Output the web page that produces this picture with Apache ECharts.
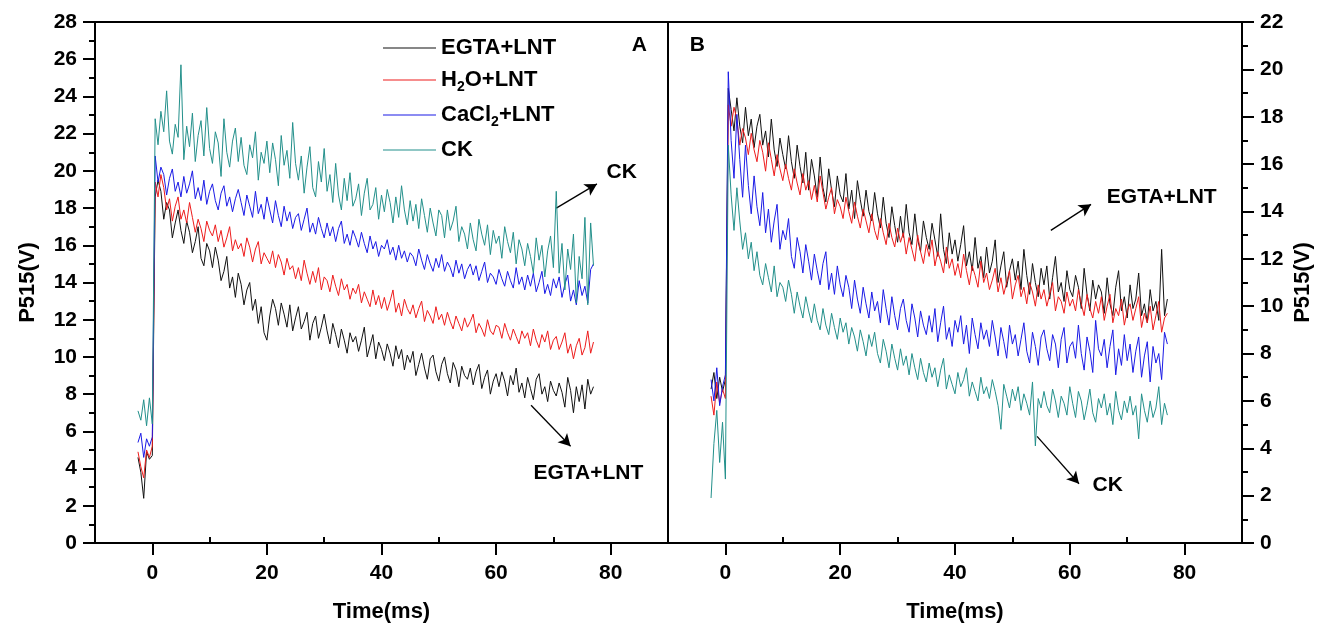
<!DOCTYPE html>
<html>
<head>
<meta charset="utf-8">
<script src="https://cdn.jsdelivr.net/npm/echarts@6/dist/echarts.min.js"></script>
<style>html,body{margin:0;padding:0;background:#fff}#c{width:1326px;height:628px}</style>
</head>
<body>
<div id="c"></div>
<script>
// Time (ms)
const TIME = [-2.5,-2,-1.5,-1,-0.5,0,
0.5,1,1.5,2,2.5,3,3.5,4,4.5,5,
5.5,6,6.5,7,7.5,8,8.5,9,9.5,10,
10.5,11,11.5,12,12.5,13,13.5,14,14.5,15,
15.5,16,16.5,17,17.5,18,18.5,19,19.5,20,
20.5,21,21.5,22,22.5,23,23.5,24,24.5,25,
25.5,26,26.5,27,27.5,28,28.5,29,29.5,30,
30.5,31,31.5,32,32.5,33,33.5,34,34.5,35,
35.5,36,36.5,37,37.5,38,38.5,39,39.5,40,
40.5,41,41.5,42,42.5,43,43.5,44,44.5,45,
45.5,46,46.5,47,47.5,48,48.5,49,49.5,50,
50.5,51,51.5,52,52.5,53,53.5,54,54.5,55,
55.5,56,56.5,57,57.5,58,58.5,59,59.5,60,
60.5,61,61.5,62,62.5,63,63.5,64,64.5,65,
65.5,66,66.5,67,67.5,68,68.5,69,69.5,70,
70.5,71,71.5,72,72.5,73,73.5,74,74.5,75,
75.5,76,76.5,77];

const SERIES_NAMES = ['EGTA+LNT','H2O+LNT','CaCl2+LNT','CK'];
const COLORS = ['#111111','#ee1c1c','#1a1ae6','#23908b'];

// Panel A values (P515, V)
const A_EGTA = [4.6,3.8,2.4,4.9,4.5,4.7,
18.6,19.5,18.9,17.4,18.3,17.9,16.4,17.2,17.9,16.8,
16.1,17.3,16.7,15.6,16.2,17.0,15.3,14.9,16.1,15.7,
14.8,15.9,15.2,14.1,14.6,15.4,13.7,14.3,13.2,14.5,
13.9,12.8,13.6,14.0,12.5,13.1,11.8,12.7,11.3,10.9,
12.2,13.1,12.6,11.7,12.9,12.3,11.6,12.8,11.4,12.1,
12.7,11.5,11.9,12.4,10.9,11.8,12.2,11.0,11.6,12.3,
11.4,10.7,11.8,11.2,10.5,11.5,10.9,10.2,11.3,10.8,
11.1,10.3,10.9,11.6,10.0,10.6,11.2,9.9,10.8,10.4,
9.8,10.7,10.2,9.5,10.6,9.9,10.4,9.3,10.1,9.7,
10.3,9.0,9.6,10.2,9.4,8.8,9.9,10.1,9.2,8.7,
9.6,10.0,9.1,8.6,9.7,9.3,8.4,9.5,9.0,8.8,
9.4,8.5,9.2,9.6,8.3,8.9,9.3,8.0,8.7,9.1,
8.4,9.2,8.7,7.9,9.0,8.5,9.4,8.1,8.6,7.8,
8.9,8.3,7.7,8.8,9.1,8.0,8.4,7.6,8.7,8.2,
7.9,8.6,8.1,7.3,8.9,8.2,7.0,8.4,7.6,8.5,
7.2,8.8,8.0,8.4];
const A_H2O = [4.9,4.1,3.5,5.0,4.6,5.2,
19.4,18.6,19.8,19.1,17.9,18.5,17.3,18.1,18.6,17.4,
17.9,17.2,18.3,17.5,16.7,17.4,16.9,16.2,17.3,16.8,
16.5,17.1,16.2,16.8,15.9,16.4,17.0,15.7,16.3,15.8,
16.1,15.4,16.4,15.9,15.1,15.8,16.2,15.0,15.6,15.3,
15.0,15.7,14.8,15.5,15.1,14.4,15.3,14.7,14.9,14.2,
14.8,14.1,15.2,14.5,13.9,14.6,14.0,14.8,13.6,14.3,
14.1,13.5,14.4,13.8,13.3,14.2,13.6,13.9,13.1,13.7,
13.4,13.9,12.9,13.5,13.1,12.7,13.6,12.8,13.3,12.6,
13.2,12.5,13.0,13.6,12.4,12.9,12.2,13.1,12.6,12.3,
12.8,12.1,12.6,13.0,11.9,12.5,12.2,11.8,12.7,12.0,
12.3,11.7,12.4,11.9,11.5,12.2,11.8,11.4,12.1,11.6,
11.9,12.3,11.3,11.8,11.5,11.1,12.0,11.4,11.2,11.7,
11.6,11.0,11.8,11.3,10.9,11.5,11.1,10.7,11.4,11.0,
11.3,10.6,11.5,10.9,10.5,11.2,10.8,11.4,10.4,10.9,
11.1,10.4,10.8,11.3,10.2,10.7,9.9,10.6,11.0,10.1,
10.5,11.4,10.2,10.8];
const A_CACL2 = [5.4,5.9,4.6,5.6,5.2,5.7,
20.8,19.4,20.2,19.8,18.7,19.6,20.1,18.9,19.4,18.6,
19.7,18.8,19.3,20.0,18.5,19.1,18.4,19.5,18.2,18.9,
19.3,18.4,17.9,18.8,19.2,18.1,18.6,17.8,18.5,19.0,
18.3,17.6,18.7,18.1,17.5,18.9,17.7,18.2,17.4,18.6,
17.9,17.2,18.4,17.6,17.0,18.1,17.3,17.8,16.9,17.5,
17.7,16.8,17.4,18.0,16.7,17.2,16.6,17.5,16.9,16.4,
17.2,16.5,17.0,16.2,16.9,17.3,16.1,16.6,16.0,16.8,
16.4,15.9,16.7,16.1,15.6,16.5,15.8,16.2,15.4,16.0,
15.8,16.3,15.5,15.9,15.2,16.0,15.3,15.7,15.1,15.6,
15.4,14.9,15.8,15.2,14.7,15.5,15.0,14.6,15.3,14.8,
15.5,14.6,15.1,14.8,14.3,15.2,14.5,15.0,14.2,14.7,
15.0,14.4,14.9,14.1,14.6,15.1,14.0,14.5,14.3,13.9,
14.7,14.2,13.8,14.6,14.1,13.7,14.8,13.9,14.3,13.6,
14.4,13.8,14.5,13.5,14.0,14.6,13.4,13.9,13.3,14.2,
13.7,14.3,13.2,13.9,14.4,13.0,13.6,12.8,14.1,13.3,
13.8,12.9,14.7,15.0];
const A_CK = [7.1,6.6,7.7,6.3,7.8,6.4,
22.8,21.4,23.2,22.1,24.3,21.6,20.9,22.5,21.8,25.7,
20.6,22.4,21.3,23.1,20.5,21.9,22.7,20.8,23.4,21.2,
20.4,22.1,21.5,19.7,22.8,21.0,20.2,21.6,22.3,20.5,
21.8,20.3,19.8,21.4,20.7,22.1,19.5,21.0,20.4,21.6,
19.9,21.5,20.6,19.2,21.9,20.3,21.1,19.6,22.6,20.4,
19.5,20.8,18.8,20.2,21.3,19.1,18.6,20.5,19.4,21.2,
18.9,19.8,18.3,20.4,18.7,17.9,19.6,18.4,19.9,18.1,
18.5,19.3,17.6,18.8,19.6,17.9,18.2,19.1,17.4,18.7,
17.8,19.0,18.3,17.2,18.6,17.5,19.2,17.9,17.1,18.4,
17.3,18.2,16.9,18.5,17.6,16.7,18.0,17.2,16.5,17.9,
17.6,16.4,17.9,16.8,17.3,18.1,16.2,17.0,16.6,15.8,
17.2,16.3,15.7,17.4,16.6,16.0,17.1,15.5,16.8,16.1,
16.5,15.3,17.0,16.2,15.6,16.7,15.0,16.3,15.8,14.9,
16.1,15.4,14.5,16.4,15.2,16.0,14.3,15.7,16.5,14.8,
18.9,14.5,16.1,13.6,15.8,14.7,16.6,12.9,15.4,14.2,
17.5,12.8,17.2,14.9];

// Panel B values (P515, V)
const B_EGTA = [6.5,7.2,6.1,7.0,6.4,6.9,
19.2,18.3,17.4,18.8,17.6,16.9,18.4,17.2,17.9,16.7,
17.6,18.1,16.8,17.4,16.3,17.9,16.6,15.9,17.1,16.4,
15.8,17.2,16.1,15.4,16.8,15.9,15.2,16.5,14.9,16.2,
15.5,14.6,16.3,15.0,14.4,15.8,14.9,14.2,15.5,14.7,
14.4,15.6,14.1,14.9,13.7,15.3,14.5,13.8,14.9,14.0,
13.6,14.8,13.9,13.3,14.6,13.5,12.9,14.2,13.4,12.7,
13.8,12.9,14.3,13.1,12.6,13.9,12.8,12.3,13.6,12.9,
12.4,13.5,12.8,12.1,13.9,12.4,11.8,13.1,12.2,12.8,
11.9,12.6,13.4,11.7,12.3,11.5,12.9,11.6,12.1,11.2,
12.5,11.4,11.9,12.8,11.0,11.7,12.3,10.8,11.5,12.0,
11.1,11.9,10.7,12.4,11.3,10.5,11.8,11.0,10.4,11.6,
10.9,11.7,10.3,11.2,12.1,10.6,11.0,10.2,11.5,10.7,
10.4,11.3,10.8,9.9,11.6,10.5,9.8,11.1,10.3,10.9,
10.6,9.7,11.2,10.1,9.6,10.8,11.5,9.8,10.4,9.5,
10.9,9.9,10.3,11.4,9.6,10.1,9.3,10.7,9.8,10.2,
9.4,12.4,9.6,10.3];
const B_H2O = [6.2,5.4,6.8,5.9,6.5,6.1,
18.5,17.6,18.4,17.9,16.8,17.5,17.1,16.4,17.3,16.6,
16.1,17.0,16.5,15.7,16.9,16.2,15.5,16.4,15.8,15.3,
16.0,15.4,14.9,15.8,15.2,14.7,15.6,14.9,15.3,14.5,
15.1,14.4,15.5,14.8,14.1,14.6,15.0,13.9,14.5,14.2,
13.7,14.6,14.0,13.5,14.4,13.8,13.3,14.1,13.6,13.1,
13.9,13.2,12.8,13.7,13.1,12.6,13.5,12.9,12.5,13.3,
12.7,13.1,12.2,12.9,12.4,11.9,13.0,12.3,11.8,12.6,
12.1,12.8,11.7,12.3,11.9,11.4,12.5,11.6,12.0,11.3,
11.8,11.2,12.2,11.5,10.9,11.7,11.3,10.8,11.9,11.0,
11.4,10.7,11.1,11.6,10.6,11.2,10.5,11.0,11.5,10.3,
10.9,11.3,10.4,10.8,10.1,11.0,10.6,10.0,10.9,10.3,
10.7,10.0,10.5,11.0,9.8,10.4,10.2,9.7,10.6,10.0,
10.3,9.8,10.7,10.1,9.6,10.5,9.9,9.5,10.2,9.7,
10.4,9.4,10.0,10.5,9.3,9.9,9.6,10.3,9.2,9.8,
10.1,9.4,9.9,10.4,9.1,9.7,9.3,10.0,9.0,9.6,
10.2,8.9,9.5,9.7];
const B_CACL2 = [6.9,6.0,7.4,5.8,6.6,7.1,
19.9,17.0,15.4,18.1,16.2,14.6,16.8,15.1,13.9,15.5,
14.2,13.4,14.8,13.1,14.1,12.7,13.6,14.3,12.4,13.2,
12.8,13.7,12.1,11.6,12.9,12.3,11.4,12.6,11.9,11.1,
12.2,11.5,10.9,11.8,12.3,10.7,11.4,10.5,11.7,10.9,
10.4,11.3,10.8,9.9,11.1,10.3,9.7,10.8,10.1,9.5,
10.6,9.8,10.2,9.3,10.7,9.9,9.2,10.4,9.6,9.0,
9.9,10.3,9.4,8.9,10.1,9.5,8.7,9.8,9.2,8.8,
9.6,8.9,9.9,8.5,9.3,10.0,8.6,9.1,8.3,9.4,
8.9,9.6,8.4,9.2,8.0,9.5,8.8,8.2,9.3,8.6,
9.0,8.3,9.4,8.7,7.9,9.1,8.5,7.8,9.2,8.4,
8.8,7.9,8.6,9.3,8.1,7.6,8.9,8.3,7.5,8.7,
9.0,8.2,7.7,8.8,8.4,7.4,8.6,9.1,7.6,8.3,
8.5,7.8,9.2,8.0,7.3,8.7,8.1,7.2,9.4,8.2,
7.9,8.6,7.4,8.3,9.0,7.1,8.2,7.5,8.8,7.7,
8.4,7.2,8.1,8.7,7.0,7.9,8.5,6.8,8.3,7.6,
8.0,6.9,8.9,8.4];
const B_CK = [1.9,4.2,5.6,3.4,5.1,2.7,
16.8,14.7,13.2,15.0,13.6,12.4,13.1,12.0,12.7,11.5,
12.3,11.3,10.9,11.8,11.2,10.6,11.7,10.4,11.0,10.8,
10.2,11.1,10.5,9.7,10.6,10.0,9.5,10.4,9.8,9.3,
10.1,9.4,9.0,9.9,9.2,8.8,9.7,9.1,8.6,9.5,
8.9,9.3,8.4,9.1,8.7,8.1,9.0,8.5,7.9,8.8,
8.3,8.9,8.0,7.6,8.6,8.1,7.4,8.4,7.8,7.3,
8.2,7.5,7.9,7.1,8.0,7.4,6.9,7.8,7.2,6.8,
7.6,7.0,7.4,6.6,7.3,7.8,6.5,7.1,6.7,6.3,
7.2,6.6,6.9,7.4,6.2,6.8,6.4,6.0,7.0,6.3,
6.6,6.1,6.9,6.4,5.8,4.8,6.7,6.2,5.7,6.5,
6.0,6.6,5.6,6.3,5.9,5.4,6.8,4.1,6.1,5.7,
6.4,5.8,5.5,6.5,6.0,5.3,6.2,5.9,5.4,6.6,
5.9,5.3,6.4,6.0,5.2,5.8,6.5,5.5,5.1,6.1,
5.7,6.3,5.4,5.9,5.0,6.4,5.6,5.2,6.0,5.5,
6.2,5.4,5.8,4.4,6.3,5.6,5.1,6.0,5.3,5.7,
6.6,5.0,5.9,5.4];

// Axis ticks
const X_MAJOR = [0,20,40,60,80];
const X_MINOR = [-10,10,30,50,70,90];

// Annotations: [x, y, text] and arrows [x1, y1, x2, y2] in data units
const A_TEXT = [[82.0,19.9,'CK'],[76.2,3.7,'EGTA+LNT'],[85.1,26.7,'A']];
const A_ARROWS = [[70.5,18.0,77.6,19.3],[66.1,7.4,73.0,5.2]];
const B_TEXT = [[-4.8,21.0,'B'],[76.1,14.6,'EGTA+LNT'],[66.7,2.4,'CK']];
const B_ARROWS = [[56.7,13.2,63.7,14.3],[54.3,4.5,61.6,2.5]];

const LEGEND_RICH = {
  'EGTA+LNT': '{n|EGTA+LNT}',
  'H2O+LNT': '{n|H}{s|2}{n|O+LNT}',
  'CaCl2+LNT': '{n|CaCl}{s|2}{n|+LNT}',
  'CK': '{n|CK}'
};

const FONT = '"Liberation Sans", Arial, sans-serif';
const zip = (ys) => TIME.map((t, i) => [t, ys[i]]);

const chart = echarts.init(document.getElementById('c'), null, {renderer: 'canvas'});

function xAxes(gi) {
  return [{
    type: 'value', gridIndex: gi, min: -10, max: 90,
    name: 'Time(ms)', nameLocation: 'middle', nameGap: 58,
    nameTextStyle: {fontFamily: FONT, fontWeight: 'bold', fontSize: 22, color: '#000'},
    axisLine: {show: true, onZero: false, lineStyle: {color: '#000', width: 2}},
    axisTick: {show: true, length: 12, customValues: X_MAJOR, lineStyle: {color: '#000', width: 2}},
    axisLabel: {show: true, customValues: X_MAJOR, margin: 20, fontFamily: FONT, fontWeight: 'bold', fontSize: 21, color: '#000'},
    splitLine: {show: false}
  }, {
    type: 'value', gridIndex: gi, min: -10, max: 90,
    axisLine: {show: false},
    axisTick: {show: true, length: 6, customValues: X_MINOR, lineStyle: {color: '#000', width: 2}},
    axisLabel: {show: false},
    splitLine: {show: false}
  }];
}

function yAxis(gi, max, pos, gap) {
  return {
    type: 'value', gridIndex: gi, min: 0, max: max, interval: 2, position: pos,
    name: 'P515(V)', nameLocation: 'middle', nameGap: gap, nameRotate: 90,
    nameTextStyle: {fontFamily: FONT, fontWeight: 'bold', fontSize: 22, color: '#000'},
    axisLine: {show: true, onZero: false, lineStyle: {color: '#000', width: 2}},
    axisTick: {show: true, length: 12, lineStyle: {color: '#000', width: 2}},
    minorTick: {show: true, splitNumber: 2, length: 6, lineStyle: {color: '#000', width: 2}},
    axisLabel: {margin: 18, fontFamily: FONT, fontWeight: 'bold', fontSize: 21, color: '#000'},
    splitLine: {show: false}, minorSplitLine: {show: false}
  };
}

const dataA = [A_EGTA, A_H2O, A_CACL2, A_CK];
const dataB = [B_EGTA, B_H2O, B_CACL2, B_CK];

const series = [];
[dataA, dataB].forEach((set, p) => {
  set.forEach((ys, i) => {
    series.push({
      type: 'line', name: SERIES_NAMES[i], xAxisIndex: p * 2, yAxisIndex: p,
      data: zip(ys), showSymbol: false, symbol: 'none',
      lineStyle: {color: COLORS[i], width: 1}, itemStyle: {color: COLORS[i]},
      z: 2 + i, silent: true
    });
  });
});

function annot(p, texts, arrows) {
  return {
    type: 'scatter', name: 'annot' + p, xAxisIndex: p * 2, yAxisIndex: p,
    data: texts.map(t => ({value: [t[0], t[1]], label: {formatter: t[2]}})),
    symbolSize: 1, itemStyle: {color: 'rgba(0,0,0,0)', opacity: 1}, silent: true, z: 10,
    label: {show: true, position: [0, 0], align: 'center', verticalAlign: 'middle',
      fontFamily: FONT, fontWeight: 'bold', fontSize: 21, color: '#000', textBorderWidth: 0, opacity: 1},
    markLine: {
      silent: true, symbol: ['none', 'arrow'], symbolSize: [10, 12],
      lineStyle: {color: '#000', width: 1.3, type: 'solid', opacity: 1},
      label: {show: false},
      data: arrows.map(a => [{coord: [a[0], a[1]]}, {coord: [a[2], a[3]]}])
    }
  };
}
series.push(annot(0, A_TEXT, A_ARROWS));
series.push(annot(1, B_TEXT, B_ARROWS));

chart.setOption({
  animation: false,
  backgroundColor: '#fff',
  grid: [
    {left: 95, top: 22, width: 573, height: 521, show: true, borderColor: '#000', borderWidth: 2, backgroundColor: 'transparent'},
    {left: 668, top: 22, width: 574, height: 521, show: true, borderColor: '#000', borderWidth: 2, backgroundColor: 'transparent'}
  ],
  xAxis: [...xAxes(0), ...xAxes(1)],
  yAxis: [yAxis(0, 28, 'left', 56), yAxis(1, 22, 'right', 50)],
  legend: {
    data: SERIES_NAMES, orient: 'vertical', left: 378, top: 32,
    itemWidth: 53, itemHeight: 1, itemGap: 10, icon: 'rect',
    selectedMode: false,
    formatter: (name) => LEGEND_RICH[name],
    textStyle: {
      color: '#000',
      rich: {
        n: {fontFamily: FONT, fontWeight: 'bold', fontSize: 22, lineHeight: 28, color: '#000', verticalAlign: 'middle'},
        s: {fontFamily: FONT, fontWeight: 'bold', fontSize: 14, lineHeight: 28, color: '#000', verticalAlign: 'bottom'}
      }
    }
  },
  series: series
});
</script>
</body>
</html>
